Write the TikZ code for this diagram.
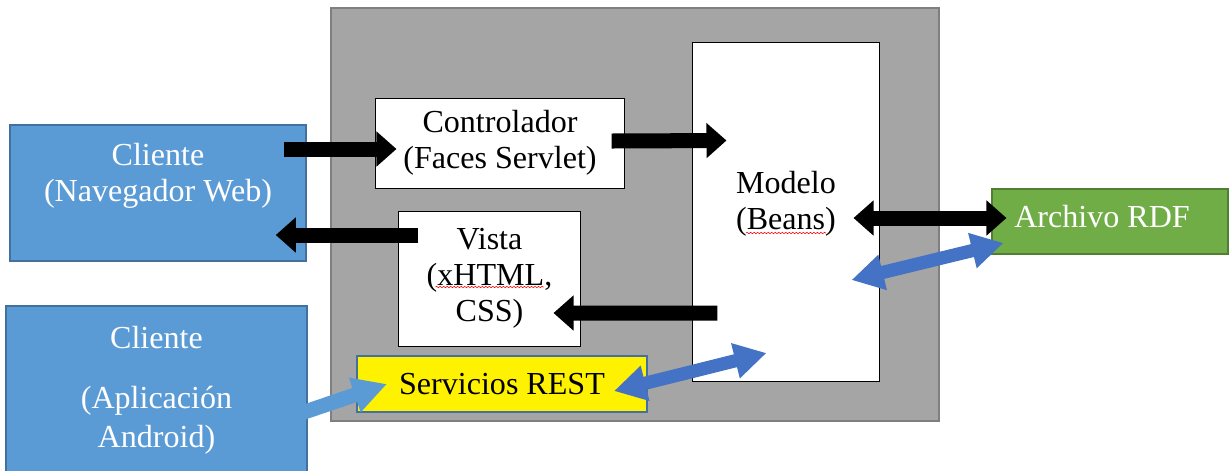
\documentclass[tikz,border=0pt]{standalone}
\usepackage{fontspec}
\setmainfont{Liberation Serif}
\usepackage{tikz}
\usetikzlibrary{arrows.meta,calc,decorations.pathmorphing}

\definecolor{grisfondo}{HTML}{A5A5A5}
\definecolor{grisborde}{HTML}{7F7F7F}
\definecolor{azulcliente}{HTML}{5B9BD5}
\definecolor{azulborde}{HTML}{41719C}
\definecolor{azulflecha}{HTML}{4472C4}
\definecolor{verderdf}{HTML}{70AD47}
\definecolor{verdeborde}{HTML}{507E32}

\begin{document}
\begin{tikzpicture}[x=0.025cm,y=-0.025cm,
  font=\fontsize{22.8}{25.6}\selectfont,
  every label/.style={align=center},
  servidor/.style={draw=grisborde,fill=grisfondo,line width=1.8pt,inner sep=0pt},
  caja/.style={draw=black,fill=white,line width=0.7pt,align=center,inner sep=0pt},
  cliente/.style={draw=azulborde,fill=azulcliente,line width=1pt,text=white,align=center,inner sep=0pt},
  flecha/.style={line width=0.375cm,-{Triangle[width=0.85cm,length=0.5cm]}},
  flechadoble/.style={line width=0.375cm,{Triangle[width=0.85cm,length=0.5cm]}-{Triangle[width=0.85cm,length=0.5cm]}},
  flechaazul/.style={azulflecha,line width=0.33cm,{Triangle[width=0.85cm,length=0.8cm]}-{Triangle[width=0.85cm,length=0.8cm]}},
  flechaclara/.style={azulcliente,line width=0.37cm,-{Triangle[width=0.85cm,length=0.85cm]}},
  subrayado/.style={red,line width=0.4pt,decorate,decoration={snake,amplitude=0.5pt,segment length=2.5pt}}]
\useasboundingbox (0,0) rectangle (1229,470);

\draw (635,214.5) node (srv) [servidor,minimum width=15.2cm,minimum height=10.325cm] {};

\draw (158,193) node (web) [cliente,minimum width=7.4cm,minimum height=3.4cm,label={[white,yshift=0.44cm]center:Cliente\\(Navegador Web)}] {};
\draw (156.5,390.5) node (android) [cliente,minimum width=7.525cm,minimum height=4.225cm] {Cliente\\[17pt](Aplicación\\[2pt]Android)};

\draw (500,143) node (cont) [caja,minimum width=6.2cm,minimum height=2.25cm] {Controlador\\(Faces Servlet)};
\draw (489.5,278.5) node (vista) [caja,minimum width=4.525cm,minimum height=3.375cm] {Vista\\(xHTML,\\CSS)};
\draw (786,212) node (modelo) [caja,minimum width=4.65cm,minimum height=8.45cm,label={[yshift=0.21cm]center:Modelo\\(Beans)}] {};
\draw (502,384) node (rest) [draw=azulborde,fill=yellow,line width=1.4pt,minimum width=7.25cm,minimum height=1.4cm] {Servicios REST};
\draw (1110,221.5) node (rdf) [draw=verdeborde,fill=verderdf,line width=1.4pt,minimum width=5.875cm,minimum height=1.625cm,label={[white,xshift=-0.2cm,yshift=0.12cm]center:Archivo RDF}] {};

\draw[subrayado] ($(vista.center)+(-54,8.5)$) -- ($(vista.center)+(54,8.5)$);
\draw[subrayado] ($(modelo.center)+(-40,21)$) -- ($(modelo.center)+(40,21)$);

\draw[flecha] ($(web.east)+(-23,-44)$) -- ($(cont.west)+(21,6)$);
\draw[flecha] ($(cont.east)+(-13,-2)$) -- ($(modelo.west)+(34,-71.5)$);
\draw[flecha] ($(vista.west)+(20,-43.5)$) -- ($(web.east)+(-31,42)$);
\draw[flecha] ($(modelo.west)+(25,101)$) -- ($(vista.east)+(-27,34.5)$);
\draw[flechadoble] ($(modelo.east)+(-26,6)$) -- ($(rdf.west)+(15,-3.5)$);
\draw[flechaazul] ($(modelo.east)+(-28,68)$) -- ($(rdf.west)+(12,21.5)$);
\draw[flechaazul] ($(rest.east)+(-34,7)$) -- ($(modelo.west)+(74,141)$);
\draw[flechaclara] ($(android.east)+(-10,23.8)$) -- ($(rest.west)+(31,0)$);
\end{tikzpicture}
\end{document}
